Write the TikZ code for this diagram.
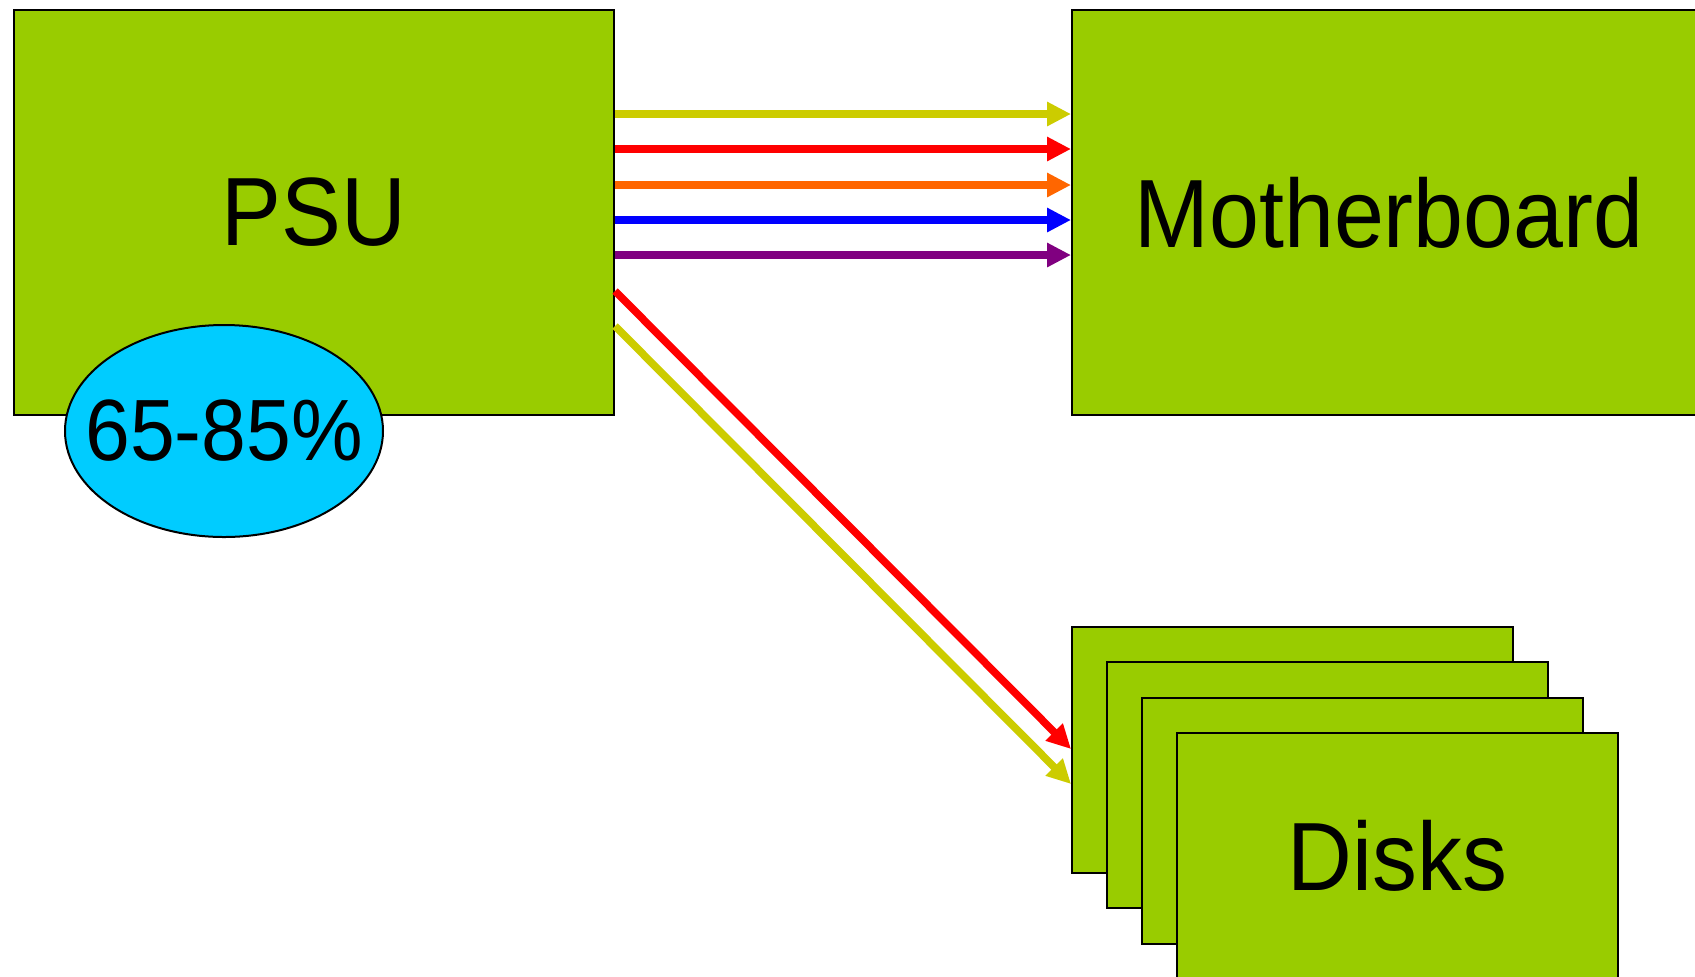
\documentclass[tikz,border=0pt]{standalone}
\usepackage{fontspec}
\setmainfont{Liberation Sans}[FakeStretch=0.925]
\usetikzlibrary{arrows.meta,shapes.geometric}

\definecolor{boardgreen}{HTML}{99CC00}
\definecolor{effcyan}{HTML}{00CCFF}
\definecolor{railyellow}{HTML}{CCCC00}
\definecolor{railred}{HTML}{FF0000}
\definecolor{railorange}{HTML}{FF6600}
\definecolor{railblue}{HTML}{0000FF}
\definecolor{railpurple}{HTML}{800080}

\tikzset{
  unit/.style={draw=black, line width=1pt, fill=boardgreen, inner sep=0pt,
    anchor=north west, font=\fontsize{48.5}{56}\selectfont},
  disk/.style={unit, minimum width=220.5pt, minimum height=123pt},
  rail/.style={line width=3.8pt, -{Triangle[length=12pt,width=11.5pt]}},
}

\begin{document}
\begin{tikzpicture}[x=0.5pt,y=-0.5pt]
  \useasboundingbox (0,0) rectangle (1695,976);
  \clip (0,0) rectangle (1695,976);

  % power supply and its efficiency tag
  \node[unit, minimum width=300pt, minimum height=202.5pt] (psu) at (13,9) {PSU};
  \node[draw=black, line width=1pt, fill=effcyan, ellipse, inner sep=0pt,
        minimum width=159pt, minimum height=106pt,
        font=\fontsize{43.5}{50}\selectfont] (eff) at (224,431)
        {\makebox[0pt]{65-85\%}};

  % motherboard (runs past the right edge)
  \node[unit, minimum width=317pt, minimum height=202.5pt] (mb) at (1071,9) {Motherboard};

  % stack of disks, back to front
  \node[disk] (disk1) at (1071,626) {};
  \node[disk] (disk2) at (1106,661) {};
  \node[disk] (disk3) at (1141,697) {};
  \node[disk] (disk4) at (1176,732) {Disks};

  % motherboard supply rails
  \draw[rail, railyellow] (psu.east |- 0,114) -- (mb.west |- 0,114);
  \draw[rail, railred]    (psu.east |- 0,149) -- (mb.west |- 0,149);
  \draw[rail, railorange] (psu.east |- 0,185) -- (mb.west |- 0,185);
  \draw[rail, railblue]   (psu.east |- 0,220) -- (mb.west |- 0,220);
  \draw[rail, railpurple] (psu.east |- 0,255) -- (mb.west |- 0,255);

  % disk supply rails
  \draw[rail, railred]    (psu.east |- 0,291) -- (disk1.west |- 0,749);
  \draw[rail, railyellow] (psu.east |- 0,326) -- (disk1.west |- 0,784);
\end{tikzpicture}
\end{document}
